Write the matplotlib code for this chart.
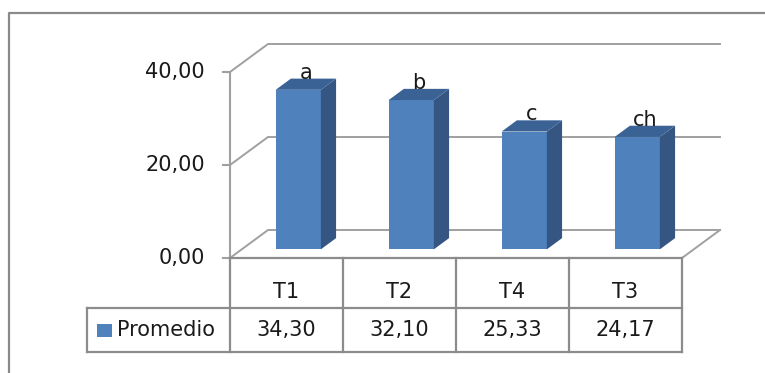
import matplotlib
matplotlib.use("Agg")
import matplotlib.pyplot as plt
from matplotlib.patches import Polygon, Rectangle
from matplotlib.lines import Line2D

categorias = ["T1", "T2", "T4", "T3"]
promedio = [34.30, 32.10, 25.33, 24.17]
letras = ["a", "b", "c", "ch"]
valores_txt = ["34,30", "32,10", "25,33", "24,17"]
serie = "Promedio"
yticks = [0, 20, 40]
ytick_labels = ["0,00", "20,00", "40,00"]

plt.rcParams['font.family'] = ['DejaVu Sans']
fs = 15

# escala: px por categoria y px por unidad de valor
CAT_PX = 113.0
VAL_PX = 4.65
X0, Y0 = 230, 258  # origen del plano frontal (px desde arriba-izquierda)
W, H = 765, 373

DX = 38 / CAT_PX   # profundidad en x (categorias)
DY = 28 / VAL_PX   # profundidad en y (valores)
d0, d1 = 0.31, 0.71  # profundidad de las barras
hw = 0.2

fig = plt.figure(figsize=(W / 100, H / 100), dpi=100)
ax = fig.add_axes([0, 0, 1, 1])
ax.set_xlim(-X0 / CAT_PX, (W - X0) / CAT_PX)
ax.set_ylim(-(H - Y0) / VAL_PX, Y0 / VAL_PX)
ax.axis('off')

n = len(categorias)
grid_c = '#a0a0a0'
# paredes / lineas de cuadricula
for v in yticks:
    ax.plot([0, DX, n + DX], [v, v + DY, v + DY], color=grid_c, lw=1.4, zorder=1)
ax.plot([n, n + DX], [0, DY], color=grid_c, lw=1.4, zorder=1)
ax.plot([0, 0], [0, yticks[-1]], color=grid_c, lw=1.5, zorder=1)
for v, lab in zip(yticks, ytick_labels):
    ax.plot([-7 / CAT_PX, 0], [v, v], color=grid_c, lw=1.5, zorder=1)
    ax.text(-25 / CAT_PX, v, lab, ha='right', va='center', fontsize=fs, color='#1a1a1a')

# barras 3D
front_c = '#4f81bd'
side_c = '#355582'
top_c = '#3b6294'
centros = [i + 0.5 for i in range(n)]
xl = [c - hw + d0 * DX for c in centros]
ax.bar(xl, promedio, width=2 * hw, bottom=d0 * DY, align='edge', color=front_c, zorder=3)
ddx = (d1 - d0) * DX
ddy = (d1 - d0) * DY
for x, v in zip(xl, promedio):
    xr = x + 2 * hw
    y0 = d0 * DY
    ax.add_patch(Polygon([(xr, y0), (xr + ddx, y0 + ddy), (xr + ddx, v + y0 + ddy), (xr, v + y0)],
                         closed=True, facecolor=side_c, edgecolor='none', zorder=3))
    ax.add_patch(Polygon([(x, v + y0), (xr, v + y0), (xr + ddx, v + y0 + ddy), (x + ddx, v + y0 + ddy)],
                         closed=True, facecolor=top_c, edgecolor='none', zorder=3))

# letras de significancia
for c, v, l in zip(centros, promedio, letras):
    ax.text(c + (d0 + d1) / 2 * DX, v + d1 * DY, l, ha='center', va='baseline',
            fontsize=fs, color='#1a1a1a', zorder=5)

# tabla de datos
tab_c = '#8c8c8c'
r1 = -50 / VAL_PX
r2 = -94 / VAL_PX
xleft = (87 - X0) / CAT_PX
ax.plot([0, n], [0, 0], color=tab_c, lw=1.6, zorder=2)
ax.plot([xleft, n], [r1, r1], color=tab_c, lw=1.6, zorder=2)
ax.plot([xleft, n], [r2, r2], color=tab_c, lw=1.6, zorder=2)
ax.plot([xleft, xleft], [r1, r2], color=tab_c, lw=1.6, zorder=2)
for i in range(n + 1):
    ax.plot([i, i], [0, r2], color=tab_c, lw=1.6, zorder=2)
for i, (cat, vt) in enumerate(zip(categorias, valores_txt)):
    ax.text(i + 0.5, r1 * 0.68, cat, ha='center', va='center', fontsize=fs, color='#1a1a1a')
    ax.text(i + 0.5, (r1 + r2) / 2, vt, ha='center', va='center', fontsize=fs, color='#1a1a1a')
ax.add_patch(Rectangle(((97 - X0) / CAT_PX, (r1 + r2) / 2 - 6.5 / VAL_PX), 15 / CAT_PX, 13 / VAL_PX,
                       facecolor=front_c, edgecolor='none'))
ax.text((117 - X0) / CAT_PX, (r1 + r2) / 2, serie, ha='left', va='center', fontsize=fs, color='#1a1a1a')

# marco del grafico
fig.add_artist(Line2D([9 / W, 9 / W, 1.01], [-0.01, 1 - 13 / H, 1 - 13 / H], transform=fig.transFigure,
                      color='#8a8a8a', lw=1.6))

fig.savefig("out.png", dpi=100)
